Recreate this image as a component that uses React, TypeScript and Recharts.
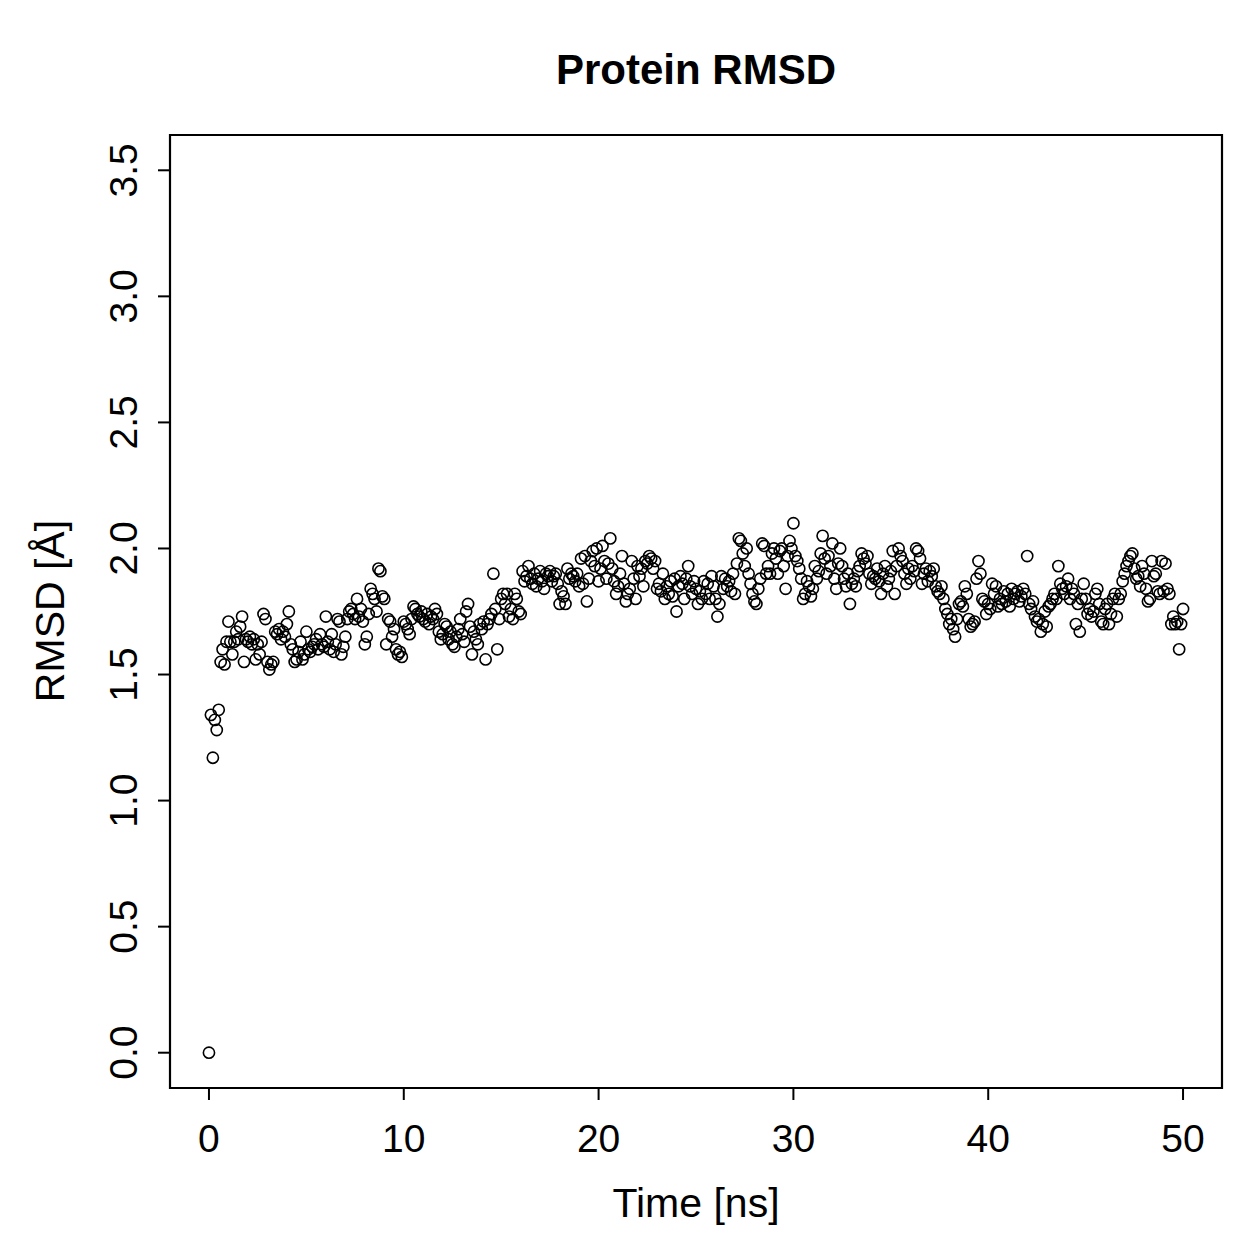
import React from "react";
import { ReferenceArea, Scatter, ScatterChart, XAxis, YAxis } from "recharts";

// RMSD of the protein backbone, one frame every 0.1 ns (rows of 10 = 1 ns)
const rmsd = [
  0.0, 1.34, 1.17, 1.32, 1.28, 1.36, 1.55, 1.6, 1.54, 1.63,
  1.71, 1.63, 1.58, 1.63, 1.67, 1.64, 1.69, 1.73, 1.55, 1.64,
  1.63, 1.65, 1.62, 1.64, 1.56, 1.62, 1.58, 1.63, 1.74, 1.72,
  1.55, 1.52, 1.54, 1.55, 1.67, 1.66, 1.68, 1.64, 1.67, 1.65,
  1.7, 1.75, 1.62, 1.6, 1.55, 1.56, 1.59, 1.63, 1.56, 1.58,
  1.67, 1.6, 1.59, 1.61, 1.62, 1.64, 1.6, 1.66, 1.62, 1.61,
  1.73, 1.63, 1.6, 1.66, 1.59, 1.62, 1.72, 1.71, 1.58, 1.61,
  1.65, 1.72, 1.75, 1.76, 1.74, 1.72, 1.8, 1.73, 1.76, 1.71,
  1.62, 1.65, 1.74, 1.84, 1.82, 1.8, 1.75, 1.92, 1.91, 1.81,
  1.8, 1.62, 1.72, 1.71, 1.65, 1.68, 1.6, 1.58, 1.59, 1.57,
  1.71, 1.7, 1.68, 1.66, 1.72, 1.77, 1.76, 1.74, 1.73, 1.75,
  1.72, 1.71, 1.74, 1.7, 1.73, 1.72, 1.76, 1.74, 1.67, 1.64,
  1.66, 1.7, 1.69, 1.64, 1.67, 1.62, 1.61, 1.65, 1.68, 1.72,
  1.66, 1.63, 1.75, 1.78, 1.69, 1.58, 1.67, 1.64, 1.62, 1.7,
  1.68, 1.71, 1.56, 1.7, 1.72, 1.74, 1.9, 1.76, 1.6, 1.72,
  1.8, 1.82, 1.78, 1.82, 1.73, 1.76, 1.72, 1.82, 1.8, 1.75,
  1.74, 1.91, 1.87, 1.89, 1.93, 1.88, 1.86, 1.9, 1.85, 1.88,
  1.91, 1.87, 1.84, 1.9, 1.89, 1.91, 1.87, 1.89, 1.9, 1.86,
  1.78, 1.83, 1.81, 1.78, 1.92, 1.88, 1.9, 1.89, 1.87, 1.9,
  1.85, 1.96, 1.86, 1.97, 1.79, 1.88, 1.95, 1.99, 1.93, 2.0,
  1.87, 1.92, 2.01, 1.95, 1.88, 1.94, 2.04, 1.92, 1.87, 1.82,
  1.85, 1.9, 1.97, 1.86, 1.79, 1.82, 1.84, 1.95, 1.88, 1.8,
  1.93, 1.89, 1.92, 1.85, 1.95, 1.94, 1.97, 1.96, 1.92, 1.95,
  1.84, 1.86, 1.83, 1.9, 1.8, 1.85, 1.82, 1.87, 1.81, 1.88,
  1.75, 1.85, 1.89, 1.86, 1.8, 1.88, 1.93, 1.85, 1.82, 1.87,
  1.84, 1.78, 1.83, 1.8, 1.87, 1.82, 1.86, 1.8, 1.89, 1.85,
  1.8, 1.73, 1.78, 1.89, 1.84, 1.88, 1.85, 1.87, 1.83, 1.9,
  1.82, 1.94, 2.04, 2.03, 1.98, 1.93, 2.0, 1.9, 1.86, 1.82,
  1.79, 1.78, 1.84, 1.88, 2.02, 2.01, 1.9, 1.93, 1.9, 1.98,
  2.0, 1.96, 1.9, 1.99, 2.0, 1.93, 1.84, 1.97, 2.03, 2.0,
  2.1, 1.97, 1.95, 1.92, 1.88, 1.8, 1.82, 1.87, 1.85, 1.81,
  1.84, 1.93, 1.88, 1.91, 1.98, 2.05, 1.96, 1.9, 1.97, 1.93,
  2.02, 1.88, 1.84, 1.94, 2.0, 1.93, 1.88, 1.85, 1.9, 1.78,
  1.86, 1.88, 1.85, 1.91, 1.93, 1.98, 1.96, 1.94, 1.97, 1.9,
  1.86, 1.89, 1.88, 1.92, 1.87, 1.82, 1.9, 1.93, 1.85, 1.88,
  1.91, 1.99, 1.82, 1.93, 2.0, 1.97, 1.95, 1.9, 1.86, 1.92,
  1.88, 1.93, 1.91, 2.0, 1.99, 1.96, 1.86, 1.9, 1.92, 1.87,
  1.91, 1.89, 1.92, 1.85, 1.83, 1.82, 1.85, 1.8, 1.76, 1.74,
  1.7, 1.72, 1.68, 1.65, 1.72, 1.78, 1.79, 1.77, 1.85, 1.82,
  1.72, 1.69, 1.7, 1.71, 1.88, 1.95, 1.9, 1.8, 1.79, 1.74,
  1.78, 1.76, 1.86, 1.82, 1.85, 1.77, 1.8, 1.78, 1.83, 1.79,
  1.82, 1.77, 1.84, 1.8, 1.82, 1.83, 1.79, 1.81, 1.84, 1.82,
  1.97, 1.78, 1.76, 1.79, 1.73, 1.71, 1.72, 1.67, 1.7, 1.75,
  1.69, 1.77, 1.78, 1.8, 1.82, 1.8, 1.93, 1.86, 1.84, 1.82,
  1.85, 1.88, 1.8, 1.84, 1.82, 1.7, 1.78, 1.67, 1.8, 1.86,
  1.8, 1.74, 1.76, 1.73, 1.75, 1.82, 1.84, 1.78, 1.71, 1.7,
  1.76, 1.78, 1.7, 1.74, 1.8, 1.82, 1.73, 1.8, 1.82, 1.87,
  1.9, 1.93, 1.95, 1.97, 1.98, 1.92, 1.88, 1.89, 1.85, 1.93,
  1.9, 1.84, 1.79, 1.8, 1.95, 1.89, 1.9, 1.83, 1.82, 1.95,
  1.83, 1.94, 1.84, 1.82, 1.7, 1.73, 1.7, 1.71, 1.6, 1.7,
  1.76,
];

const xTicks = [0, 10, 20, 30, 40, 50];
const yTicks = [0, 0.5, 1, 1.5, 2, 2.5, 3, 3.5];

const data = rmsd.map((v, i) => ({ time: i / 10, rmsd: v }));

const FONT = "'Liberation Sans', Arial, Helvetica, sans-serif";

// R-style base graphics: 4% padding around the data range
const X_DOMAIN: [number, number] = [-2, 52];
const Y_DOMAIN: [number, number] = [-0.14, 3.64];

const OpenCircle = (props: any) => (
  <circle
    cx={props.cx}
    cy={props.cy}
    r={5.6}
    fill="none"
    stroke="#000"
    strokeWidth={1.6}
  />
);

const XTick = (props: any) => {
  const { x, payload } = props;
  return (
    <text
      x={x}
      y={1152}
      textAnchor="middle"
      fontFamily={FONT}
      fontSize={39}
      fill="#000"
    >
      {payload.value}
    </text>
  );
};

const YTick = (props: any) => {
  const { y, payload } = props;
  return (
    <text
      transform={`translate(137, ${y}) rotate(-90)`}
      textAnchor="middle"
      fontFamily={FONT}
      fontSize={39}
      fill="#000"
    >
      {Number(payload.value).toFixed(1)}
    </text>
  );
};

export default function App() {
  return (
    <div
      style={{
        position: "absolute",
        left: 0,
        top: 0,
        width: 1259,
        height: 1259,
        background: "#fff",
      }}
    >
      <ScatterChart
        width={1259}
        height={1259}
        margin={{ top: 135, right: 37, bottom: 71, left: 70 }}
      >
        <XAxis
          type="number"
          dataKey="time"
          domain={X_DOMAIN}
          ticks={xTicks}
          allowDataOverflow
          axisLine={false}
          tickSize={12}
          tickLine={{ stroke: "#000", strokeWidth: 2 }}
          tick={<XTick />}
          height={100}
        />
        <YAxis
          type="number"
          dataKey="rmsd"
          domain={Y_DOMAIN}
          ticks={yTicks}
          allowDataOverflow
          axisLine={false}
          tickSize={12}
          tickLine={{ stroke: "#000", strokeWidth: 2 }}
          tick={<YTick />}
          width={100}
        />
        <ReferenceArea
          x1={X_DOMAIN[0]}
          x2={X_DOMAIN[1]}
          y1={Y_DOMAIN[0]}
          y2={Y_DOMAIN[1]}
          fill="none"
          fillOpacity={0}
          stroke="#000"
          strokeWidth={2.2}
          strokeOpacity={1}
        />
        <Scatter
          data={data}
          shape={OpenCircle}
          isAnimationActive={false}
        />
      </ScatterChart>
      <svg
        width={1259}
        height={1259}
        style={{ position: "absolute", left: 0, top: 0, pointerEvents: "none" }}
      >
        <text
          x={696}
          y={84}
          textAnchor="middle"
          fontFamily={FONT}
          fontWeight="bold"
          fontSize={42}
          fill="#000"
        >
          Protein RMSD
        </text>
        <text
          x={696}
          y={1217}
          textAnchor="middle"
          fontFamily={FONT}
          fontSize={41}
          fill="#000"
        >
          Time [ns]
        </text>
        <text
          transform="translate(64, 611) rotate(-90)"
          textAnchor="middle"
          fontFamily={FONT}
          fontSize={41}
          fill="#000"
        >
          RMSD [Å]
        </text>
      </svg>
    </div>
  );
}
